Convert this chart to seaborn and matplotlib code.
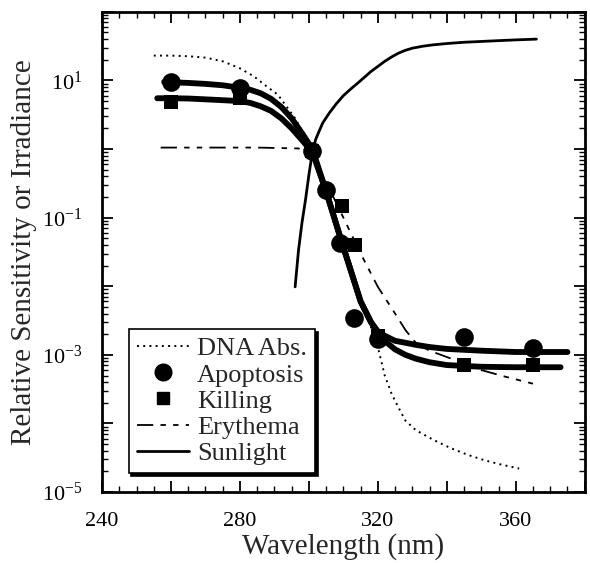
import matplotlib
matplotlib.use("Agg")
from matplotlib import pyplot as plt
from matplotlib.lines import Line2D
from matplotlib.ticker import LogLocator, NullFormatter
import seaborn as sns
import numpy as np

# values (wavelength in nm, relative sensitivity)
apop_nm = [260, 280, 301, 305, 309, 313, 320, 345, 365]
apop_val = [9.5, 7.8, 0.95, 0.25, 0.043, 0.0035, 0.0017, 0.0018, 0.00126]

kill_nm = [260, 280, 301, 309.5, 313.5, 320, 345, 365]
kill_val = [4.8, 5.5, 0.95, 0.15, 0.04, 0.0019, 0.00071, 0.00071]

apop_fit_nm = [258, 260, 265, 270, 275, 280, 283, 286, 289, 292, 295, 298, 301, 305, 310, 315, 318, 320,
               322, 325, 328, 331, 335, 340, 350, 360, 375]
apop_fit_val = [9.5, 9.4, 9.2, 8.9, 8.5, 7.8, 7.3, 6.5, 5.4, 4.1, 2.8, 1.7, 1.0, 0.24, 0.037, 0.006, 0.003, 0.0022,
                0.0019, 0.0016, 0.0015, 0.0014, 0.0013, 0.00122, 0.00115, 0.0011, 0.0011]

kill_fit_nm = [256, 260, 265, 270, 275, 280, 283, 286, 289, 292, 295, 298, 301, 305, 310, 315, 318, 320,
               322, 325, 328, 331, 335, 340, 350, 360, 373]
kill_fit_val = [5.5, 5.5, 5.45, 5.3, 5.15, 5.0, 4.7, 4.2, 3.6, 2.8, 2.0, 1.35, 0.9, 0.24, 0.037, 0.006, 0.003, 0.0021,
                0.0016, 0.0012, 0.001, 0.00088, 0.00078, 0.00071, 0.00067, 0.00066, 0.00066]

dna_nm = [255, 260, 265, 270, 275, 280, 284, 288, 291, 296, 301, 305, 310, 316, 320, 322, 324, 326, 328,
          331, 336, 341, 346, 351, 356, 361]
dna_val = [23, 23, 22.5, 21.5, 19, 15, 11.5, 8.0, 6.2, 2.8, 1.0, 0.3, 0.04, 0.005, 0.0013, 0.0005, 0.00027,
           0.00017, 0.00011, 0.00008, 0.000058, 0.000044, 0.000035, 0.000029, 0.000025, 0.000022]

ery_nm = [257, 270, 285, 297, 300, 305, 310, 315, 320, 325, 328, 331, 335, 340, 345, 350, 357, 365]
ery_val = [1.05, 1.05, 1.05, 1.02, 0.9, 0.33, 0.1, 0.03, 0.0098, 0.004, 0.0023, 0.0015, 0.00115, 0.00093,
           0.00075, 0.0006, 0.00048, 0.00038]

sun_nm = [296, 297, 298, 299, 300, 301, 302, 304, 306, 308, 310, 312, 314, 316, 318, 320, 322, 324, 326,
          328, 330, 333, 336, 340, 345, 350, 355, 360, 366]
sun_val = [0.0098, 0.034, 0.085, 0.18, 0.42, 0.9, 1.4, 2.4, 3.4, 4.6, 6.0, 7.4, 9.0, 11, 13.5, 16, 19, 22, 25,
           27.5, 29.5, 31.5, 33, 34.5, 36, 37, 38, 39, 40]

sns.set_style("ticks")
plt.rcParams["font.family"] = ["Liberation Serif", "DejaVu Serif"]
plt.rcParams["mathtext.default"] = "regular"

fig, ax = plt.subplots(figsize=(5.9, 5.63), dpi=100)
fig.subplots_adjust(left=0.173, right=0.991, bottom=0.126, top=0.979)

sns.lineplot(x=dna_nm, y=dna_val, ax=ax, color="k", lw=1.4, linestyle=(0, (1, 2.2)))
sns.lineplot(x=ery_nm, y=ery_val, ax=ax, color="k", lw=1.3, linestyle=(0, (9, 4, 3, 4, 3, 4)))
sns.lineplot(x=sun_nm, y=sun_val, ax=ax, color="k", lw=2.0)
sns.lineplot(x=apop_fit_nm, y=apop_fit_val, ax=ax, color="k", lw=4.2)
sns.lineplot(x=kill_fit_nm, y=kill_fit_val, ax=ax, color="k", lw=4.2)
sns.scatterplot(x=apop_nm, y=apop_val, ax=ax, color="k", marker="o", s=180, linewidth=0, zorder=5)
sns.scatterplot(x=kill_nm, y=kill_val, ax=ax, color="k", marker="s", s=110, linewidth=0, zorder=5)

ax.set_yscale("log")
ax.set_xlim(240, 380)
ax.set_ylim(1e-5, 1e2)
ax.set_xticks([240, 260, 280, 300, 320, 340, 360, 380])
ax.set_xticklabels(["240", "", "280", "", "320", "", "360", ""])
ax.set_xticks(np.arange(240, 381, 5), minor=True)
ax.set_yticks([1e-5, 1e-4, 1e-3, 1e-2, 1e-1, 1, 10, 100])
ax.set_yticklabels(["$10^{-5}$", "", "$10^{-3}$", "", "$10^{-1}$", "", "$10^{1}$", ""])
ax.yaxis.set_minor_locator(LogLocator(base=10, subs=np.arange(2, 10), numticks=20))
ax.yaxis.set_minor_formatter(NullFormatter())

ax.tick_params(which="both", direction="in", top=True, right=True, colors="k", labelsize=16)
ax.tick_params(which="major", length=8, width=1.3, pad=14)
ax.tick_params(which="minor", length=4, width=1.0)
for s in ax.spines.values():
    s.set_linewidth(2.0)
    s.set_color("k")

ax.set_xlabel("Wavelength (nm)", fontsize=21, labelpad=2)
ax.set_ylabel("Relative Sensitivity or Irradiance", fontsize=21, labelpad=4)

handles = [
    Line2D([], [], color="k", lw=1.4, linestyle=(0, (1, 2.2))),
    Line2D([], [], color="k", lw=0, marker="o", markersize=12),
    Line2D([], [], color="k", lw=0, marker="s", markersize=9),
    Line2D([], [], color="k", lw=1.3, linestyle=(0, (9, 4, 3, 4, 3, 4))),
    Line2D([], [], color="k", lw=2.0),
]
labels = ["DNA Abs.", "Apoptosis", "Killing", "Erythema", "Sunlight"]
leg = ax.legend(handles, labels, loc="lower left", bbox_to_anchor=(0.055, 0.04),
                borderaxespad=0, fontsize=19, labelspacing=0.1, handlelength=2.0,
                handletextpad=0.3, borderpad=0.3, fancybox=False, frameon=True,
                shadow={"color": "k", "alpha": 1}, framealpha=1)
leg.get_frame().set_edgecolor("k")
leg.get_frame().set_linewidth(1.2)

fig.savefig("out.png", dpi=100)
